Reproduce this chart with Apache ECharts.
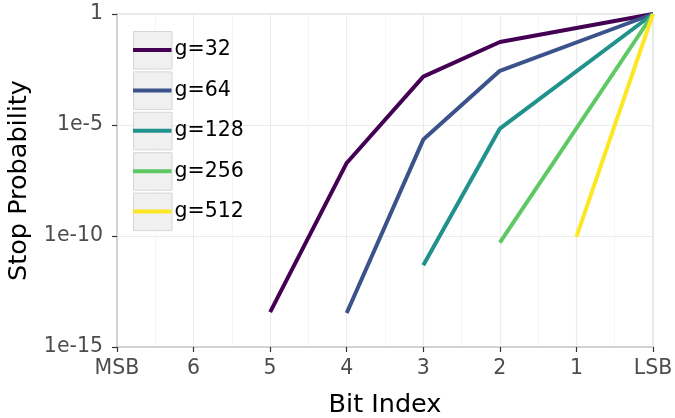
<!DOCTYPE html>
<html>
<head>
<meta charset="utf-8">
<script src="https://cdn.jsdelivr.net/npm/echarts@6/dist/echarts.min.js"></script>
<style>html,body{margin:0;padding:0;background:#fff}#c{width:675px;height:418px}</style>
</head>
<body>
<div id="c"></div>
<script>
// Category tick labels along the x axis (MSB ... LSB)
const xLabels = ['MSB', '6', '5', '4', '3', '2', '1', 'LSB'];
// Stop probabilities per bit index (null = not drawn)
const g32  = [null, null, 3.7e-14, 1.95e-7, 1.5e-3, 5.5e-2, null, 1];
const g64  = [null, null, null, 3.4e-14, 2.2e-6, 2.75e-3, null, 1];
const g128 = [null, null, null, null, 4.8e-12, 6.9e-6, null, 1];
const g256 = [null, null, null, null, null, 5.0e-11, null, 1];
const g512 = [null, null, null, null, null, null, 9.1e-11, 1];
const seriesNames = ['g=32', 'g=64', 'g=128', 'g=256', 'g=512'];
const seriesData = [g32, g64, g128, g256, g512];
const colors = ['#440154', '#3b528b', '#21918c', '#5ec962', '#fde725'];
const yTicks = [1e-15, 1e-10, 1e-5, 1];

const font = 'DejaVu Sans';
const chart = echarts.init(document.getElementById('c'), null, {renderer: 'canvas'});

function pairs(arr) {
  const out = [];
  arr.forEach((v, i) => { if (v !== null) out.push([i, v]); });
  return out;
}

const legendGraphics = seriesNames.map((n, i) => ({
  type: 'rect',
  left: 133,
  top: 31 + i * 40.4,
  shape: {width: 38.5, height: 37.5},
  style: {fill: '#f0f0f0', stroke: '#d6d6d6', lineWidth: 1},
  z: 50
}));

chart.setOption({
  animation: false,
  color: colors,
  textStyle: {fontFamily: font},
  grid: {left: 117, right: 22, top: 14, bottom: 71, show: true, borderColor: '#d3d3d3', borderWidth: 1,
    backgroundColor: '#ffffff', outerBoundsMode: 'none', containLabel: false},
  graphic: legendGraphics,
  legend: {
    orient: 'vertical',
    left: 133,
    top: 31,
    z: 60,
    icon: 'rect',
    itemWidth: 38.5,
    itemHeight: 4,
    itemGap: 2.4,
    padding: 0,
    textStyle: {fontFamily: font, fontSize: 20.5, color: '#000', lineHeight: 38, padding: [0, 0, 0, -2]},
    data: seriesNames
  },
  xAxis: {
    type: 'value',
    min: 0, max: 7, interval: 1,
    name: 'Bit Index',
    nameLocation: 'middle',
    nameGap: 45,
    nameTextStyle: {fontFamily: font, fontSize: 25.5, color: '#000'},
    axisLine: {show: true, lineStyle: {color: '#cccccc', width: 1.5}},
    axisTick: {show: true, length: 5, lineStyle: {color: '#333333', width: 1.2}},
    axisLabel: {fontFamily: font, fontSize: 20.5, color: '#4d4d4d', margin: 11,
      formatter: v => xLabels[Math.round(v)]},
    splitLine: {show: true, lineStyle: {color: '#ebebeb', width: 1.2}},
    minorTick: {show: false, splitNumber: 2},
    minorSplitLine: {show: true, lineStyle: {color: '#f5f5f5', width: 1}}
  },
  yAxis: {
    type: 'log',
    logBase: 10,
    min: yTicks[0], max: yTicks[yTicks.length - 1],
    interval: 5,
    name: 'Stop Probability',
    nameLocation: 'middle',
    nameGap: 85,
    nameTextStyle: {fontFamily: font, fontSize: 25.5, color: '#000'},
    axisLine: {show: true, lineStyle: {color: '#cccccc', width: 1.5}},
    axisTick: {show: true, length: 5, lineStyle: {color: '#333333', width: 1.2}},
    axisLabel: {fontFamily: font, fontSize: 20.5, color: '#4d4d4d', margin: 14,
      formatter: v => { const e = Math.round(Math.log10(v)); return e === 0 ? '1' : '1e' + e; }},
    splitLine: {show: true, lineStyle: {color: '#ebebeb', width: 1.2}}
  },
  series: seriesNames.map((n, i) => ({
    name: n,
    type: 'line',
    data: pairs(seriesData[i]),
    showSymbol: false,
    symbol: 'none',
    lineStyle: {width: 4, color: colors[i], cap: 'butt'},
    itemStyle: {color: colors[i]},
    z: 10
  }))
});
</script>
</body>
</html>
